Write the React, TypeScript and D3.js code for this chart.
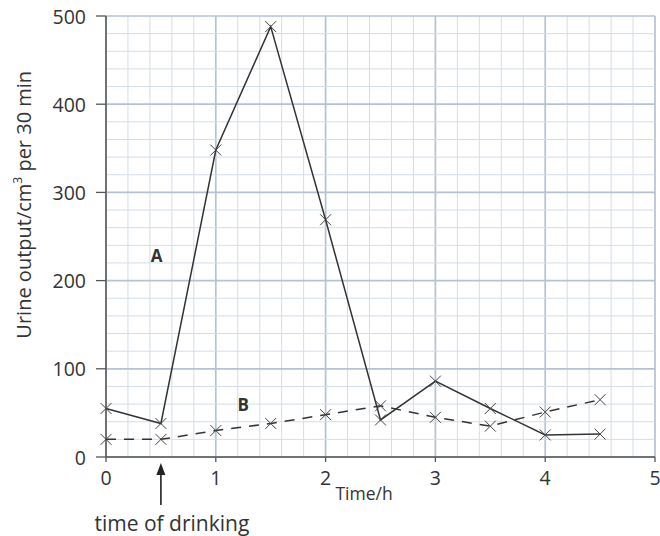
import * as d3 from "d3";

// time in hours
const times = [0, 0.5, 1, 1.5, 2, 2.5, 3, 3.5, 4, 4.5];
// urine output, cm3 per 30 min
const seriesA = [55, 38, 348, 488, 269, 42, 86, 55, 25, 26];
const seriesB = [20, 20, 30, 38, 48, 58, 45, 35, 51, 65];
const xTicks = [0, 1, 2, 3, 4, 5];
const yTicks = [0, 100, 200, 300, 400, 500];

const W = 660;
const H = 536;
const margin = { top: 16, right: 5, bottom: 79, left: 106 };
const font = "'Open Sans', 'Noto Sans', sans-serif";
const ink = "#333";

const Cross = ({ x, y }: { x: number; y: number }) => {
  const s = 5.5;
  return (
    <path
      d={`M${x - s},${y - s}L${x + s},${y + s}M${x - s},${y + s}L${x + s},${y - s}`}
      stroke="#444"
      strokeWidth={1}
      fill="none"
    />
  );
};

export default function App() {
  const x = d3
    .scaleLinear()
    .domain([0, 5])
    .range([margin.left, W - margin.right]);
  const y = d3
    .scaleLinear()
    .domain([0, 500])
    .range([H - margin.bottom, margin.top]);

  const line = d3
    .line<number>()
    .x((_, i) => x(times[i]))
    .y((d) => y(d));

  // fine graph-paper grid: 0.2 h by 20 cm3
  const vGrid = d3.range(0, 5.001, 0.2);
  const hGrid = d3.range(0, 500.1, 20);

  const x0 = x(0);
  const y0 = y(0);
  const xd = x(0.5);

  return (
    <svg
      width={W}
      height={H}
      viewBox={`0 0 ${W} ${H}`}
      style={{ position: "absolute", left: 0, top: 0, background: "#fff" }}
      fontFamily={font}
    >
      {/* graph paper */}
      {vGrid.map((v, i) => {
        const major = i % 5 === 0;
        return (
          <line
            key={`v${i}`}
            x1={x(v)}
            x2={x(v)}
            y1={y(500)}
            y2={y0}
            stroke={major ? "#b4c2d4" : "#d3dde8"}
            strokeWidth={major ? 1.7 : 1}
          />
        );
      })}
      {hGrid.map((v, i) => {
        const major = i % 5 === 0;
        return (
          <line
            key={`h${i}`}
            x1={x0}
            x2={x(5)}
            y1={y(v)}
            y2={y(v)}
            stroke={major ? "#b4c2d4" : "#d3dde8"}
            strokeWidth={major ? 1.7 : 1}
          />
        );
      })}

      {/* axes */}
      <line x1={x0} x2={x0} y1={y(500)} y2={y0} stroke="#555" strokeWidth={1.5} />
      <line x1={x0} x2={x(5)} y1={y0} y2={y0} stroke="#555" strokeWidth={1.5} />
      {yTicks.map((t) => (
        <g key={`yt${t}`}>
          <line x1={x0 - 10} x2={x0} y1={y(t)} y2={y(t)} stroke="#555" strokeWidth={1.3} />
          <text
            x={x0 - 20}
            y={y(t)}
            textAnchor="end"
            dominantBaseline="central"
            fontSize={19.5}
            fill={ink}
          >
            {t}
          </text>
        </g>
      ))}
      {xTicks.map((t) => (
        <g key={`xt${t}`}>
          <line x1={x(t)} x2={x(t)} y1={y0} y2={y0 + 5} stroke="#555" strokeWidth={1.3} />
          <text
            x={x(t)}
            y={y0 + 20}
            textAnchor="middle"
            dominantBaseline="central"
            fontSize={19.5}
            fill={ink}
          >
            {t}
          </text>
        </g>
      ))}

      {/* axis titles */}
      <text
        x={x(2.35)}
        y={y0 + 36}
        textAnchor="middle"
        dominantBaseline="central"
        fontSize={17.5}
        fill={ink}
      >
        Time/h
      </text>
      <text
        transform={`translate(23,${y(286)}) rotate(-90)`}
        textAnchor="middle"
        dominantBaseline="central"
        fontSize={20}
        fill={ink}
      >
        Urine output/cm<tspan dy={-6} fontSize={12}>3</tspan>
        <tspan dy={6}> per 30 min</tspan>
      </text>

      {/* series */}
      <path d={line(seriesA) || ""} fill="none" stroke="#333" strokeWidth={1.5} />
      <path
        d={line(seriesB) || ""}
        fill="none"
        stroke="#333"
        strokeWidth={1.5}
        strokeDasharray="10,8"
      />
      {seriesA.map((d, i) => (
        <Cross key={`a${i}`} x={x(times[i])} y={y(d)} />
      ))}
      {seriesB.map((d, i) => (
        <Cross key={`b${i}`} x={x(times[i])} y={y(d)} />
      ))}

      {/* series labels */}
      <text x={x(0.46)} y={y(228)} textAnchor="middle" dominantBaseline="central" fontSize={17} fontWeight="bold" fill={ink}>
        A
      </text>
      <text x={x(1.25)} y={y(59)} textAnchor="middle" dominantBaseline="central" fontSize={17} fontWeight="bold" fill={ink}>
        B
      </text>

      {/* time of drinking arrow */}
      <line x1={xd} x2={xd} y1={y0 + 48} y2={y0 + 14} stroke="#222" strokeWidth={1.6} />
      <path d={`M${xd},${y0 + 6}L${xd - 4.5},${y0 + 18}L${xd + 4.5},${y0 + 18}Z`} fill="#222" />
      <text x={x(0.6)} y={y0 + 66} textAnchor="middle" dominantBaseline="central" fontSize={21} fill={ink}>
        time of drinking
      </text>
    </svg>
  );
}
